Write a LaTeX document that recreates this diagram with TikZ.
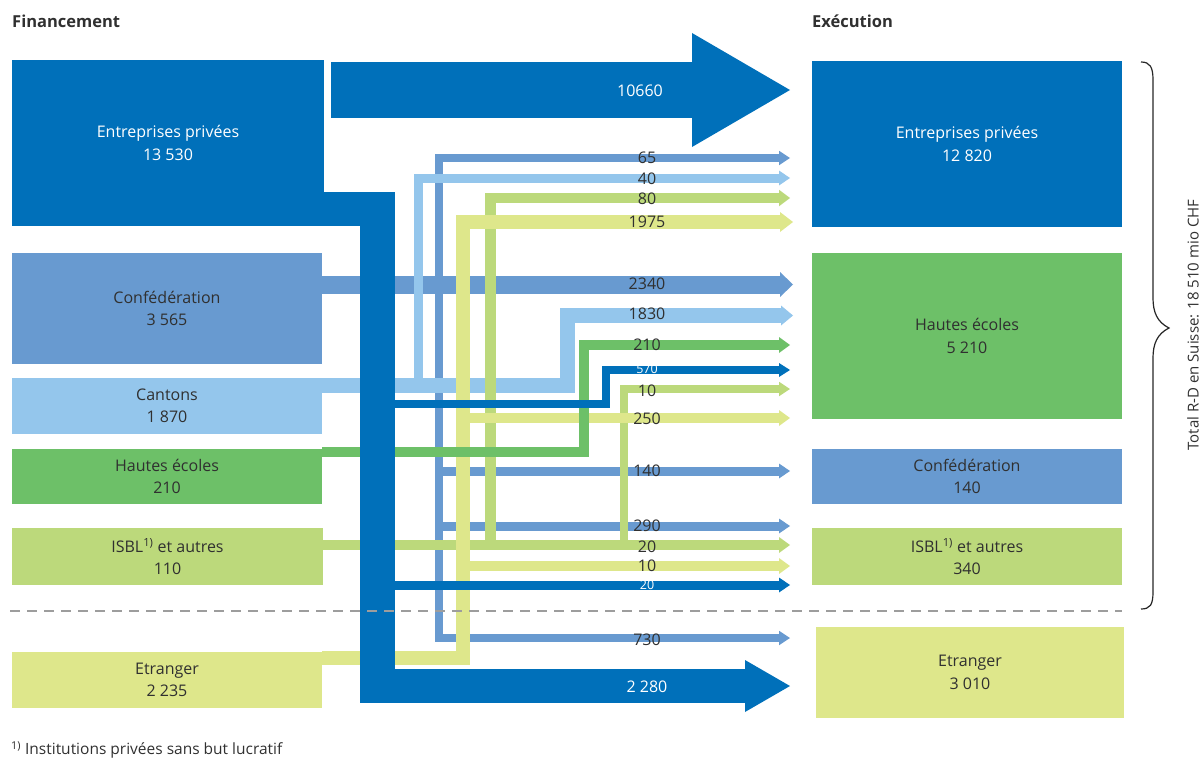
\documentclass[tikz,border=0pt]{standalone}
\usepackage{fontspec}
\setmainfont{Open Sans}
\usetikzlibrary{arrows.meta}
\definecolor{cP}{RGB}{0,112,186}
\definecolor{cB}{RGB}{104,154,208}
\definecolor{cC}{RGB}{148,198,236}
\definecolor{cH}{RGB}{109,192,104}
\definecolor{cI}{RGB}{188,217,123}
\definecolor{cE}{RGB}{222,231,139}
\definecolor{txt}{RGB}{48,48,48}
\definecolor{dashgray}{RGB}{157,157,157}
\begin{document}
\begin{tikzpicture}[x=1pt,y=-1pt,
  box/.style={rectangle, inner sep=0pt, outer sep=0pt, align=center, text=txt, font=\fontsize{16}{22.5}\selectfont},
  flow/.style={line cap=butt, line join=miter},
  thin/.style={flow, line width=#1, -{Triangle[length=11pt,width=#1+6pt,line width=0pt]}},
  lab/.style={text=txt, font=\fontsize{16}{18}\selectfont, inner sep=0pt},
  wlab/.style={lab, text=white, font=\fontsize{12.5}{14}\selectfont},
  blab/.style={lab, text=white},
  title/.style={text=txt, font=\fontsize{16.5}{18}\selectfont\bfseries, inner sep=0pt, anchor=west}
  ]
\useasboundingbox (0,0) rectangle (1203,760);

% titles
\node[title] (fin) at (12,21) {Financement};
\node[title] (exe) at (812,21) {Exécution};

% left boxes
\node[box, fill=cP, text=white, minimum width=312pt, minimum height=166pt] (lEP) at (168,143) {Entreprises privées\\13 530};
\node[box, fill=cB, minimum width=310pt, minimum height=111pt] (lCo) at (167,308.5) {Confédération\\3 565};
\node[box, fill=cC, minimum width=310pt, minimum height=56pt] (lCa) at (167,406) {Cantons\\1 870};
\node[box, fill=cH, minimum width=310pt, minimum height=55pt] (lHE) at (167,476.5) {Hautes écoles\\210};
\node[box, fill=cI, minimum width=311pt, minimum height=57pt] (lIS) at (167.5,556.5) {ISBL\textsuperscript{1)} et autres\\110};
\node[box, fill=cE, minimum width=310pt, minimum height=56pt] (lEt) at (167,680) {Etranger\\2 235};

% right boxes
\node[box, fill=cP, text=white, minimum width=310pt, minimum height=166pt] (rEP) at (967,144) {Entreprises privées\\12 820};
\node[box, fill=cH, minimum width=310pt, minimum height=166pt] (rHE) at (967,336) {Hautes écoles\\5 210};
\node[box, fill=cB, minimum width=310pt, minimum height=55pt] (rCo) at (967,476.5) {Confédération\\140};
\node[box, fill=cI, minimum width=310pt, minimum height=57pt] (rIS) at (967,556.5) {ISBL\textsuperscript{1)} et autres\\340};
\node[box, fill=cE, minimum width=308pt, minimum height=91pt] (rEt) at (970,672.5) {Etranger\\3 010};

% junctions and tips
\coordinate (jB1) at (439,284.5);
\coordinate (jB2) at (439,471);
\coordinate (jB3) at (439,526);
\coordinate (jC1) at (418.5,385);
\coordinate (kC) at (567.5,385);
\coordinate (kH) at (584,451.5);
\coordinate (jI1) at (490.5,545);
\coordinate (jI2) at (624,545);
\coordinate (kE) at (463,658);
\coordinate (jE1) at (463,418);
\coordinate (jE2) at (463,566);
\coordinate (s10660) at (331,90);
\coordinate (kP) at (377.5,209);
\coordinate (jP1) at (377.5,404);
\coordinate (kP2) at (606,404);
\coordinate (jP2) at (377.5,585);

\coordinate (t10660) at (790,90);
\coordinate (t65) at (790,158);
\coordinate (t40) at (790,178);
\coordinate (t80) at (790,198);
\coordinate (t1975) at (793,222);
\coordinate (t2340) at (793,284.5);
\coordinate (t1830) at (793,315.5);
\coordinate (t210) at (790,345);
\coordinate (t570) at (790,370);
\coordinate (t10a) at (790,389);
\coordinate (t250) at (790,418);
\coordinate (t140) at (790,471);
\coordinate (t290) at (790,526);
\coordinate (t20a) at (790,545);
\coordinate (t10b) at (790,566);
\coordinate (t20b) at (790,585);
\coordinate (t730) at (790,638);
\coordinate (t2280) at (790,686);

% Confederation flows
\draw[flow, cB, line width=18pt, -{Triangle[length=13pt,width=25pt,line width=0pt]}] (lCo.east |- jB1) -- (t2340);
\draw[thin=8.5pt, cB] (jB1) |- (t65);
\draw[thin=8.5pt, cB] (jB1) |- (t730);
\draw[thin=9pt, cB] (jB2) -- (t140);
\draw[thin=9pt, cB] (jB3) -- (t290);

% Cantons flows
\draw[flow, cC, line width=15pt, -{Triangle[length=12pt,width=20pt,line width=0pt]}] (lCa.east |- kC) -- (kC) |- (t1830);
\draw[thin=9pt, cC] (jC1) |- (t40);

% ISBL flows
\draw[thin=10pt, cI] (lIS.east |- jI1) -- (t20a);
\draw[thin=10.5pt, cI] (jI1) |- (t80);
\draw[thin=8.5pt, cI] (jI2) |- (t10a);

% Etranger flows
\draw[flow, cE, line width=14pt, -{Triangle[length=13pt,width=20pt,line width=0pt]}] (lEt.east |- kE) -- (kE) |- (t1975);
\draw[thin=10pt, cE] (jE1) -- (t250);
\draw[thin=10pt, cE] (jE2) -- (t10b);

% Hautes ecoles flow
\draw[thin=10pt, cH] (lHE.east |- kH) -- (kH) |- (t210);

% Entreprises privees flows
\draw[flow, cP, line width=56pt, -{Triangle[length=98pt,width=114pt,line width=0pt]}] (s10660) -- (t10660);
\draw[flow, cP, line width=34.5pt, -{Triangle[length=45pt,width=52pt,line width=0pt]}] (lEP.east |- kP) -- (kP) |- (t2280);
\draw[thin=8pt, cP] (jP1) -- (kP2) |- (t570);
\draw[thin=9pt, cP] (jP2) -- (t20b);

% dashed separator
\coordinate (d1) at (10,611);
\coordinate (d2) at (1122,611);
\draw[dashgray, line width=2pt, dash pattern=on 10pt off 7pt] (d1) -- (d2);

% labels
\node[blab] (l10660) at (640,91) {10660};
\node[lab] (l65) at (647,157.5) {65};
\node[lab] (l40) at (647,178.5) {40};
\node[lab] (l80) at (647,199) {80};
\node[lab] (l1975) at (647,221.5) {1975};
\node[lab] (l2340) at (647,283.5) {2340};
\node[lab] (l1830) at (647,314) {1830};
\node[lab] (l210) at (647,345) {210};
\node[wlab] (l570) at (647,369.5) {570};
\node[lab] (l10a) at (647,391) {10};
\node[lab] (l250) at (647,419) {250};
\node[lab] (l140) at (647,471) {140};
\node[lab] (l290) at (647,526) {290};
\node[lab] (l20a) at (647,547) {20};
\node[lab] (l10b) at (647,566) {10};
\node[wlab] (l20b) at (647,585) {20};
\node[lab] (l730) at (647,640) {730};
\node[blab] (l2280) at (647,687) {2 280};

% brace and total
\draw[black!85, line width=1.2pt] (1141,62) .. controls (1150,62) and (1153,67) .. (1153,80)
  -- (1153,298) .. controls (1153,312) and (1157,322) .. (1169,328)
  .. controls (1157,334) and (1153,344) .. (1153,358)
  -- (1153,592) .. controls (1153,605) and (1150,609) .. (1141,609);
\node[lab, rotate=90, font=\fontsize{15}{16}\selectfont] (total) at (1193,325) {Total R-D en Suisse: 18 510 mio CHF};

% footnote
\node[lab, anchor=west, font=\fontsize{15.5}{16}\selectfont] (foot) at (11,750) {\textsuperscript{1)} Institutions privées sans but lucratif};
\end{tikzpicture}
\end{document}
